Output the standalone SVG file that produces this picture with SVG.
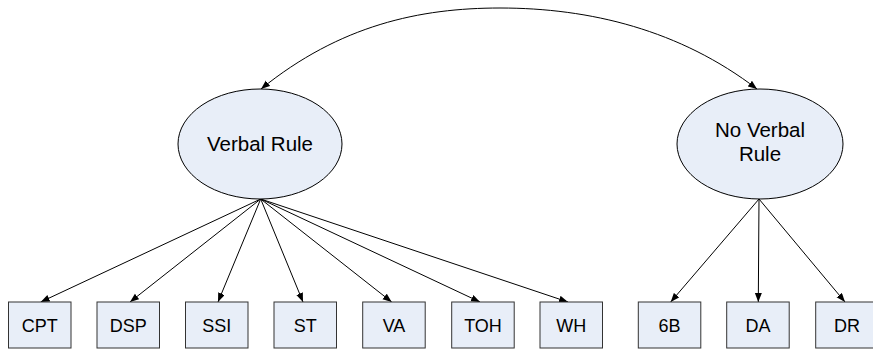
<svg xmlns="http://www.w3.org/2000/svg" width="873" height="354" viewBox="0 0 873 354">
<defs>
<marker id="ah" markerUnits="userSpaceOnUse" markerWidth="10" markerHeight="8" refX="9" refY="3.5" orient="auto-start-reverse">
<path d="M0,0 L9,3.5 L0,7 z" fill="#000"/>
</marker>
<style>
.n{fill:#e8eef8;stroke:#000;stroke-width:1}
.b{fill:#e8eef8;stroke:#333;stroke-width:1}
.t{font-family:"Liberation Sans",Arial,sans-serif;fill:#000;text-anchor:middle}
.c{fill:none;stroke:#000;stroke-width:1;marker-end:url(#ah)}
.d{fill:none;stroke:#000;stroke-width:1;marker-start:url(#ah);marker-end:url(#ah)}
</style>
</defs>
<rect width="873" height="354" fill="#fff"/>
<g id="connectors">
<path class="d" d="M261,89 C340,25 420,8 500,8 C590,8 680,30 757,89"/>
<line class="c" x1="260.7" y1="199" x2="40.7" y2="302"/>
<line class="c" x1="260.7" y1="199" x2="130" y2="302"/>
<line class="c" x1="260.7" y1="199" x2="218" y2="302"/>
<line class="c" x1="260.7" y1="199" x2="303" y2="302"/>
<line class="c" x1="260.7" y1="199" x2="391.7" y2="302"/>
<line class="c" x1="260.7" y1="199" x2="480" y2="302"/>
<line class="c" x1="260.7" y1="199" x2="568" y2="302"/>
<line class="c" x1="759" y1="199" x2="670.7" y2="302"/>
<line class="c" x1="759" y1="199" x2="758.3" y2="302"/>
<line class="c" x1="759" y1="199" x2="845" y2="302"/>
</g>
<g id="verbal-rule">
<ellipse class="n" cx="260" cy="144" rx="82" ry="55"/>
<text class="t" x="260" y="151" font-size="20.5">Verbal Rule</text>
</g>
<g id="no-verbal-rule">
<ellipse class="n" cx="760" cy="144" rx="83" ry="55"/>
<text class="t" x="760" y="136.5" font-size="20.5">No Verbal</text>
<text class="t" x="760" y="160.5" font-size="20.5">Rule</text>
</g>
<g id="CPT"><rect class="b" x="8.5" y="302" width="62.5" height="46"/><text class="t" x="39.7" y="331.5" font-size="18">CPT</text></g>
<g id="DSP"><rect class="b" x="97" y="302" width="62.5" height="46"/><text class="t" x="128.3" y="331.5" font-size="18">DSP</text></g>
<g id="SSI"><rect class="b" x="185.5" y="302" width="62.5" height="46"/><text class="t" x="216.8" y="331.5" font-size="18">SSI</text></g>
<g id="ST"><rect class="b" x="274" y="302" width="62.5" height="46"/><text class="t" x="305.3" y="331.5" font-size="18">ST</text></g>
<g id="VA"><rect class="b" x="362.7" y="302" width="62.5" height="46"/><text class="t" x="394" y="331.5" font-size="18">VA</text></g>
<g id="TOH"><rect class="b" x="451.7" y="302" width="62.5" height="46"/><text class="t" x="483" y="331.5" font-size="18">TOH</text></g>
<g id="WH"><rect class="b" x="540" y="302" width="62.5" height="46"/><text class="t" x="571.3" y="331.5" font-size="18">WH</text></g>
<g id="6B"><rect class="b" x="638.3" y="302" width="62.5" height="46"/><text class="t" x="669.5" y="331.5" font-size="18">6B</text></g>
<g id="DA"><rect class="b" x="726.7" y="302" width="62.5" height="46"/><text class="t" x="758" y="331.5" font-size="18">DA</text></g>
<g id="DR"><rect class="b" x="815.7" y="302" width="62.5" height="46"/><text class="t" x="846.9" y="331.5" font-size="18">DR</text></g>
</svg>
